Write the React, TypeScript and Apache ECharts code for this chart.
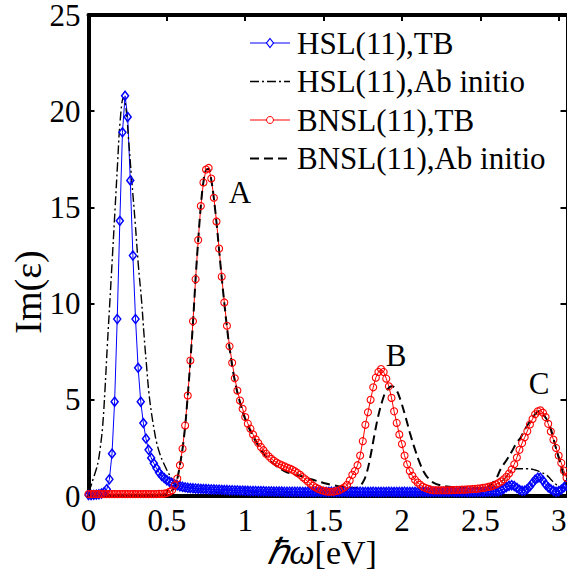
import React, { useEffect, useRef } from "react";
import * as echarts from "echarts";

const FONT = "'Liberation Serif', 'Times New Roman', serif";

// Tight-binding spectra sampled every 1/60 eV from 0 eV.
const TB_STEP = 1 / 60;

const hslTB = [
  0.05, 0.05, 0.06, 0.07, 0.09, 0.13, 0.2,
  0.35, 0.87, 2.2, 4.9, 9.2, 14.3, 18.9, 20.8, 19.7, 16.4, 12.5, 9.2, 6.66, 4.9, 3.79, 2.98, 2.4, 1.98,
  1.7, 1.45, 1.22, 1.05, 0.93, 0.82, 0.74, 0.67, 0.6, 0.55, 0.51, 0.48, 0.45, 0.43, 0.41, 0.4, 0.39, 0.38,
  0.37, 0.36, 0.36, 0.35, 0.34, 0.34, 0.33, 0.33, 0.32, 0.31, 0.31, 0.3, 0.3, 0.29, 0.29, 0.28, 0.28, 0.27,
  0.27, 0.26, 0.26, 0.26, 0.25, 0.25, 0.25, 0.24, 0.24, 0.24, 0.23, 0.23, 0.23, 0.23, 0.22, 0.22, 0.22, 0.22, 0.22, 0.22,
  0.22, 0.21, 0.21, 0.22, 0.21, 0.21, 0.21, 0.22, 0.21, 0.21,
  0.21, 0.21, 0.22, 0.21, 0.21, 0.21, 0.21, 0.22, 0.21, 0.21,
  0.21, 0.21, 0.21, 0.22, 0.21, 0.21, 0.21, 0.21, 0.22, 0.21,
  0.21, 0.21, 0.21, 0.21, 0.22, 0.21, 0.21, 0.21, 0.21, 0.21,
  0.22, 0.21, 0.21, 0.21, 0.21, 0.21, 0.22, 0.21, 0.21, 0.21,
  0.21, 0.21, 0.22, 0.21, 0.21, 0.21, 0.21, 0.21, 0.22, 0.21,
  0.21, 0.21, 0.21, 0.22, 0.21, 0.21, 0.21, 0.22, 0.22, 0.22,
  0.22, 0.22, 0.23, 0.23, 0.23, 0.23,
  0.25, 0.3, 0.38, 0.46, 0.53, 0.56, 0.52, 0.42, 0.32, 0.27, 0.28, 0.36, 0.5, 0.68,
  0.85, 0.95, 0.95, 0.8, 0.6, 0.45, 0.35, 0.27, 0.22, 0.25, 0.33, 0.45, 0.56,
];

const bnslTB = [
  0.1, 0.1, 0.1, 0.1, 0.1, 0.1, 0.1, 0.1, 0.1, 0.1,
  0.1, 0.1, 0.1, 0.1, 0.1, 0.1, 0.1, 0.1, 0.1, 0.1,
  0.1, 0.1, 0.1, 0.1, 0.1, 0.1, 0.1, 0.11, 0.11, 0.12,
  0.15, 0.22, 0.3, 0.56, 0.91, 1.6, 2.46, 3.67, 5.22, 7.04,
  9.08, 11.27, 13.3, 15.07, 16.3, 16.97, 17.05, 16.5, 15.5, 14.27,
  12.86, 11.4, 10.06, 8.85, 7.78, 6.92, 6.12, 5.48, 4.96, 4.53,
  4.1, 3.76, 3.5, 3.2, 2.95, 2.75, 2.55, 2.38, 2.2, 2.06,
  1.93, 1.83, 1.74, 1.66, 1.6, 1.54, 1.48, 1.43, 1.37, 1.29,
  1.2, 1.1, 0.98, 0.87, 0.75, 0.64, 0.53, 0.44, 0.37, 0.31,
  0.27, 0.24, 0.22, 0.22, 0.23, 0.26, 0.3, 0.38, 0.46, 0.58,
  0.8, 1.1, 1.3, 1.6, 2.1, 2.85, 3.7, 4.35, 5.0, 5.65,
  6.15, 6.45, 6.6, 6.45, 6.1, 5.7, 5.1, 4.4, 3.8, 3.2,
  2.7, 2.1, 1.65, 1.3, 1.05, 0.85, 0.7, 0.58, 0.48, 0.42,
  0.37, 0.33, 0.3, 0.3, 0.3, 0.3, 0.3, 0.3, 0.3, 0.31,
  0.31, 0.32, 0.32, 0.33, 0.33, 0.34, 0.35, 0.36, 0.37, 0.38,
  0.4, 0.42, 0.44, 0.47, 0.5, 0.54, 0.6, 0.67, 0.76, 0.87,
  1.0, 1.17, 1.38, 1.65, 2.0, 2.4, 2.75, 3.05, 3.37, 3.72,
  4.0, 4.25, 4.4, 4.45, 4.33, 4.1, 3.75, 3.35, 2.93, 2.5,
  2.1, 1.72, 1.32, 0.95,
];

// Ab initio spectra as [energy (eV), Im(eps)] pairs.
const hslAbInitio = [
  [0, 0.2], [0.015, 0.5], [0.03, 0.9], [0.05, 1.4], [0.062, 1.8], [0.075, 2.5], [0.09, 3.6],
  [0.105, 5.5], [0.12, 7.8], [0.137, 10.2], [0.155, 12.8], [0.17, 15], [0.185, 17.2], [0.202, 19.5],
  [0.223, 20.7], [0.24, 20.1], [0.255, 18.6], [0.275, 16.5], [0.298, 14.2], [0.318, 12], [0.338, 10.2],
  [0.355, 8.3], [0.37, 6.8], [0.385, 5.4], [0.402, 4.3], [0.42, 3.4], [0.434, 2.8], [0.455, 2.2],
  [0.477, 1.75], [0.5, 1.35], [0.53, 0.9], [0.55, 0.6], [0.572, 0.4], [0.6, 0.28], [0.7, 0.2],
  [1.0, 0.18], [1.5, 0.18], [2.0, 0.18], [2.4, 0.2], [2.5, 0.25], [2.55, 0.35], [2.6, 0.55],
  [2.648, 0.85], [2.7, 1.3], [2.734, 1.42], [2.8, 1.42], [2.85, 1.35], [2.883, 1.25], [2.92, 1.1],
  [2.946, 0.9], [2.98, 0.62], [3.01, 0.48], [3.05, 0.4],
];

const bnslAbInitio = [
  [0, 0.05], [0.3, 0.05], [0.45, 0.05], [0.5, 0.1], [0.53, 0.25], [0.55, 0.5], [0.567, 0.9],
  [0.583, 1.6], [0.6, 2.45], [0.617, 3.65], [0.633, 5.2], [0.65, 7.0], [0.667, 9.05], [0.683, 11.25],
  [0.7, 13.3], [0.717, 15.1], [0.733, 16.3], [0.75, 16.95], [0.767, 17.0], [0.783, 16.45], [0.8, 15.45],
  [0.817, 14.2], [0.833, 12.8], [0.85, 11.35], [0.867, 10.0], [0.883, 8.8], [0.9, 7.7], [0.933, 6.0],
  [0.967, 4.85], [1.0, 4.0], [1.05, 3.1], [1.1, 2.4], [1.15, 1.9], [1.2, 1.55], [1.25, 1.3],
  [1.3, 1.15], [1.35, 1.05], [1.4, 0.92], [1.45, 0.8], [1.5, 0.68], [1.55, 0.58], [1.6, 0.5],
  [1.65, 0.45], [1.7, 0.42], [1.72, 0.45], [1.75, 0.7], [1.775, 1.2], [1.8, 2.1], [1.825, 3.2],
  [1.85, 4.2], [1.875, 4.95], [1.9, 5.45], [1.936, 5.7], [1.965, 5.5], [1.99, 5.0], [2.02, 4.2],
  [2.05, 3.3], [2.08, 2.5], [2.11, 1.8], [2.14, 1.25], [2.17, 0.9], [2.2, 0.7], [2.25, 0.55],
  [2.3, 0.48], [2.4, 0.42], [2.5, 0.42], [2.55, 0.5], [2.6, 0.9], [2.63, 1.4], [2.67, 1.9],
  [2.7, 2.3], [2.734, 2.8], [2.755, 3.0], [2.787, 3.5], [2.819, 3.9], [2.845, 4.2], [2.872, 4.4],
  [2.9, 4.25], [2.936, 3.8], [2.96, 3.2], [2.978, 2.63], [3.0, 2.0], [3.02, 1.42], [3.04, 0.8],
  [3.05, 0.6],
];

const seriesNames = [
  "HSL(11),TB",
  "HSL(11),Ab initio",
  "BNSL(11),TB",
  "BNSL(11),Ab initio",
];

const peakLabels = [
  { text: "A", x: 240, y: 192 },
  { text: "B", x: 396, y: 355 },
  { text: "C", x: 539, y: 383 },
];

const X_MIN = 0;
const X_MAX = 3.05;
const X_STEP = 0.5;
const Y_MIN = 0;
const Y_MAX = 25;
const Y_STEP = 5;

// Line styles shared by the series and their legend samples.
const BLUE = "#0000ff";
const RED = "#ff0000";
const DASH_DOT = [9, 3, 2, 3];
const DASH = [9, 5];

const onGrid = (v: number[]) => v.map((y, i) => [i * TB_STEP, y]);

// Legend box geometry (pixels).
const LEG_X = 250;
const LEG_LINE = 40;
const LEG_Y0 = 43;
const LEG_DY = 38.5;

function legendGraphics() {
  const out: any[] = [];
  seriesNames.forEach((name, k) => {
    const y = LEG_Y0 + k * LEG_DY;
    const cx = LEG_X + LEG_LINE / 2;
    const lineStyle: any =
      k === 0
        ? { stroke: BLUE, lineWidth: 1 }
        : k === 1
        ? { stroke: "#000", lineWidth: 1.4, lineDash: DASH_DOT }
        : k === 2
        ? { stroke: RED, lineWidth: 1 }
        : { stroke: "#000", lineWidth: 2, lineDash: DASH };
    out.push({
      type: "line",
      shape: { x1: LEG_X, y1: y, x2: LEG_X + LEG_LINE, y2: y },
      style: lineStyle,
    });
    if (k === 0) {
      out.push({
        type: "polygon",
        shape: { points: [[cx, y - 4.5], [cx + 3.5, y], [cx, y + 4.5], [cx - 3.5, y]] },
        style: { stroke: BLUE, fill: "#fff", lineWidth: 1.2 },
      });
    } else if (k === 2) {
      out.push({
        type: "circle",
        shape: { cx, cy: y, r: 3.5 },
        style: { stroke: RED, fill: "#fff", lineWidth: 1 },
      });
    }
    out.push({
      type: "text",
      x: LEG_X + LEG_LINE + 7,
      y,
      style: {
        text: name,
        fontFamily: FONT,
        fontSize: 31,
        fill: "#000",
        align: "left",
        verticalAlign: "middle",
      },
    });
  });
  return out;
}

export default function App() {
  const ref = useRef<HTMLDivElement>(null);

  useEffect(() => {
    if (!ref.current) return;
    const chart = echarts.init(ref.current, null, { renderer: "svg" });

    const axisLine = (w: number) => ({
      show: true,
      onZero: false,
      lineStyle: { color: "#000", width: w },
    });
    const ticks = { show: true, inside: true, length: 6, lineStyle: { color: "#000", width: 2 } };
    const labelFont = { fontFamily: FONT, fontSize: 31, lineHeight: 24, color: "#000" };

    chart.setOption({
      animation: false,
      backgroundColor: "#fff",
      grid: {
        left: 88.5,
        top: 15,
        right: 0.5,
        bottom: 79,
        containLabel: false,
        outerBoundsMode: "none",
      },
      xAxis: [
        {
          type: "value",
          min: X_MIN,
          max: X_MAX,
          interval: X_STEP,
          position: "bottom",
          axisLine: axisLine(4),
          axisTick: ticks,
          splitLine: { show: false },
          axisLabel: {
            ...labelFont,
            margin: 12,
            formatter: (v: number) =>
              Math.abs(v / X_STEP - Math.round(v / X_STEP)) < 1e-6 ? String(v) : "",
          },
        },
        {
          type: "value",
          min: X_MIN,
          max: X_MAX,
          interval: X_STEP,
          position: "top",
          axisLine: axisLine(4),
          axisTick: ticks,
          axisLabel: { show: false },
          splitLine: { show: false },
        },
      ],
      yAxis: [
        {
          type: "value",
          min: Y_MIN,
          max: Y_MAX,
          interval: Y_STEP,
          position: "left",
          axisLine: axisLine(4),
          axisTick: ticks,
          splitLine: { show: false },
          axisLabel: { ...labelFont, margin: 8 },
        },
        {
          type: "value",
          min: Y_MIN,
          max: Y_MAX,
          interval: Y_STEP,
          position: "right",
          axisLine: axisLine(2),
          axisTick: ticks,
          axisLabel: { show: false },
          splitLine: { show: false },
        },
      ],
      graphic: [
        ...legendGraphics(),
        ...peakLabels.map((p) => ({
          type: "text",
          x: p.x,
          y: p.y,
          style: {
            text: p.text,
            fontFamily: FONT,
            fontSize: 31,
            fill: "#000",
            align: "center",
            verticalAlign: "middle",
          },
        })),
        {
          type: "text",
          x: 322,
          y: 552,
          style: {
            text: "{i|ℏω}{n|[eV]}",
            align: "center",
            verticalAlign: "middle",
            rich: {
              i: { fontFamily: FONT, fontSize: 36, lineHeight: 30, fontStyle: "italic", fill: "#000" },
              n: { fontFamily: FONT, fontSize: 34, lineHeight: 30, fill: "#000" },
            },
          },
        },
        {
          type: "text",
          x: 28,
          y: 292,
          rotation: Math.PI / 2,
          style: {
            text: "Im(ε)",
            fontFamily: FONT,
            fontSize: 38,
            fill: "#000",
            align: "center",
            verticalAlign: "middle",
          },
        },
      ],
      series: [
        {
          name: seriesNames[0],
          type: "line",
          data: onGrid(hslTB),
          symbol: "diamond",
          symbolSize: [7, 9],
          lineStyle: { color: BLUE, width: 1 },
          itemStyle: { color: "rgba(0,0,0,0)", borderColor: BLUE, borderWidth: 1.5 },
        },
        {
          name: seriesNames[1],
          type: "line",
          data: hslAbInitio,
          symbol: "none",
          smooth: 0.4,
          lineStyle: { color: "#000", width: 1.4, type: DASH_DOT },
        },
        {
          name: seriesNames[2],
          type: "line",
          data: onGrid(bnslTB),
          symbol: "circle",
          symbolSize: 7,
          lineStyle: { color: RED, width: 1 },
          itemStyle: { color: "rgba(0,0,0,0)", borderColor: RED, borderWidth: 1.1 },
        },
        {
          name: seriesNames[3],
          type: "line",
          data: bnslAbInitio,
          symbol: "none",
          smooth: 0.4,
          lineStyle: { color: "#000", width: 2, type: DASH },
        },
      ],
    });

    return () => chart.dispose();
  }, []);

  return (
    <div
      ref={ref}
      style={{ position: "fixed", left: 0, top: 0, width: 567, height: 575 }}
    />
  );
}
